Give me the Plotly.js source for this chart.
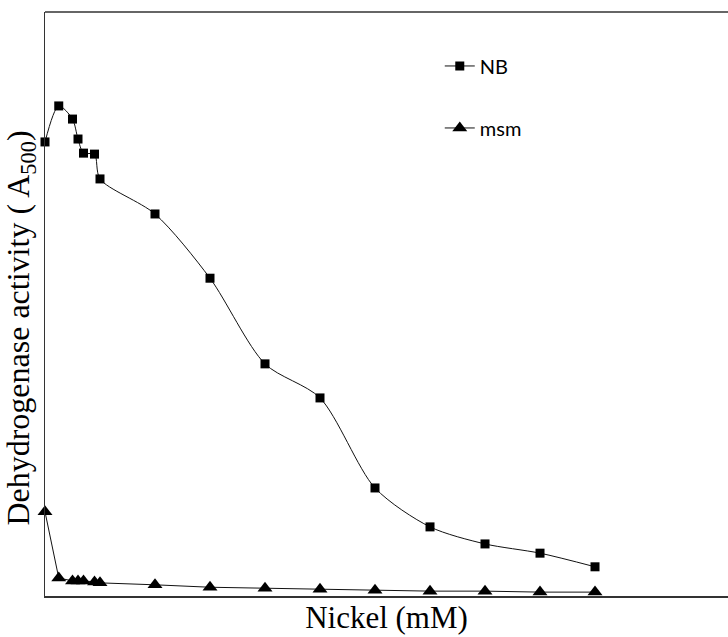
<!DOCTYPE html>
<html>
<head>
<meta charset="utf-8">
<script src="https://cdn.plot.ly/plotly-3.0.1.min.js"></script>
<style>html,body{margin:0;padding:0;background:#fff;}#chart{width:728px;height:637px;}</style>
</head>
<body>
<div id="chart"></div>
<script>
const nickel = [0, 0.25, 0.5, 0.6, 0.7, 0.9, 1, 2, 3, 4, 5, 6, 7, 8, 9, 10];
const nbActivity = [0.933, 1.007, 0.980, 0.939, 0.910, 0.908, 0.857, 0.785, 0.653, 0.477, 0.407, 0.222, 0.142, 0.107, 0.088, 0.060];
const msmActivity = [0.173, 0.037, 0.031, 0.031, 0.031, 0.029, 0.027, 0.023, 0.018, 0.016, 0.014, 0.012, 0.010, 0.010, 0.008, 0.008];
const seriesNames = ['NB', 'msm'];

const traces = [
  {
    x: nickel, y: nbActivity, name: seriesNames[0], type: 'scatter', mode: 'lines+markers',
    line: {color: '#111', width: 1, shape: 'spline', smoothing: 0.8},
    marker: {symbol: 'square', size: 9, color: '#000'},
    legendgroup: 'a', cliponaxis: false
  },
  {
    x: nickel, y: msmActivity, name: seriesNames[1], type: 'scatter', mode: 'lines+markers',
    line: {color: '#111', width: 1},
    marker: {symbol: 'triangle-up', size: 13, color: '#000'},
    legendgroup: 'b', cliponaxis: false
  }
];

const layout = {
  width: 728, height: 637,
  margin: {l: 45, r: 0, t: 12, b: 41},
  paper_bgcolor: '#fff', plot_bgcolor: '#fff',
  showlegend: true,
  legend: {
    x: 0.578, y: 0.941, xanchor: 'left', yanchor: 'top',
    traceorder: 'grouped', tracegroupgap: 33, itemwidth: 30,
    font: {family: 'Lato, Open Sans, sans-serif', size: 20, color: '#000'},
    bgcolor: 'rgba(0,0,0,0)'
  },
  xaxis: {
    range: [0, 12.418], showgrid: false, zeroline: false, showticklabels: false, ticks: '',
    showline: true, linecolor: '#333', linewidth: 1.5, mirror: false,
    title: {text: 'Nickel (mM)', font: {family: 'Liberation Serif, Times New Roman, serif', size: 31, color: '#000'}, standoff: 10}
  },
  yaxis: {
    range: [0, 1.2], showgrid: false, zeroline: false, showticklabels: false, ticks: '',
    showline: true, linecolor: '#333', linewidth: 1.5, mirror: false,
    title: {text: 'Dehydrogenase activity ( A<sub>500</sub>)&nbsp;&nbsp;&nbsp;&nbsp;&nbsp;&nbsp;', font: {family: 'Liberation Serif, Times New Roman, serif', size: 32, color: '#000'}, standoff: 6}
  },
  shapes: [
    {type: 'line', xref: 'paper', yref: 'paper', x0: 0, x1: 1, y0: 1, y1: 1, line: {color: '#333', width: 1.5}}
  ]
};

Plotly.newPlot('chart', traces, layout, {displayModeBar: false, staticPlot: true});
</script>
</body>
</html>
